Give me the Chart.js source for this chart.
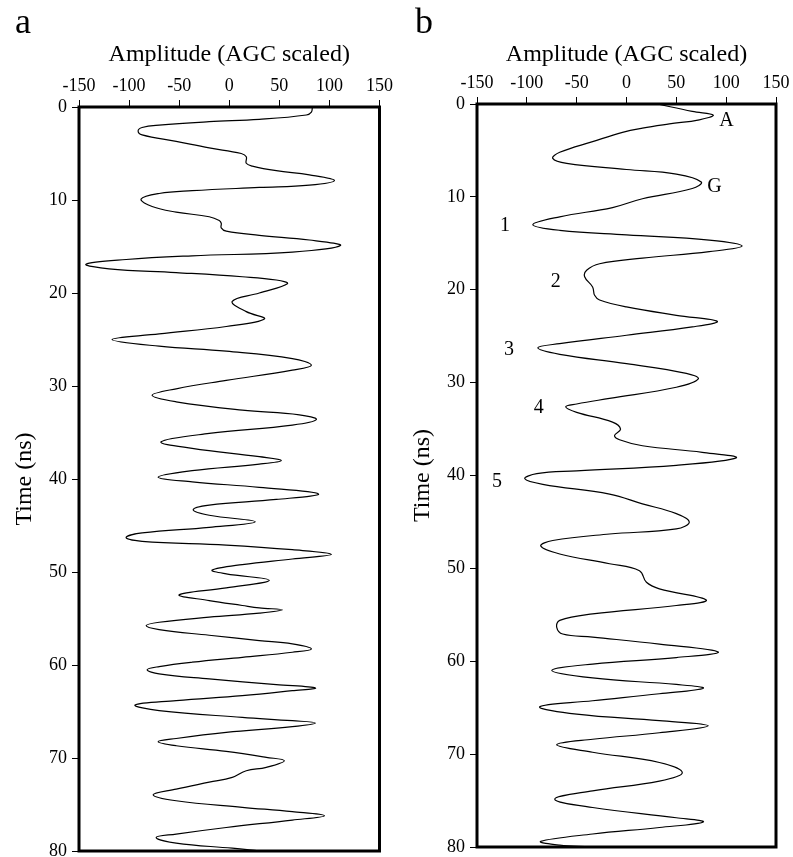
<!DOCTYPE html>
<html>
<head>
<meta charset="utf-8">
<script src="https://cdn.jsdelivr.net/npm/chart.js@4.4.1/dist/chart.umd.min.js"></script>
<style>
html, body { margin: 0; padding: 0; background: #fff; overflow: hidden; }
#wrap { position: relative; width: 793px; height: 857px; }
.panel { position: absolute; top: 0; }
#pa { left: 0; }
#pb { left: 396px; }
</style>
</head>
<body>
<div id="wrap">
  <div class="panel" id="pa"><canvas id="ca" width="396" height="880"></canvas></div>
  <div class="panel" id="pb"><canvas id="cb" width="397" height="880"></canvas></div>
</div>
<script>
// axis ticks
const ampTicks = [-150, -100, -50, 0, 50, 100, 150];
const timeTicks = [0, 10, 20, 30, 40, 50, 60, 70, 80];

// trace a: time (ns) and amplitude
const timeA = [0, 0.55, 0.86, 1.33, 1.58, 1.94, 2.2, 2.58, 3.0, 3.7, 4.4, 5.0, 5.35, 6.05, 6.35, 6.85, 7.3, 7.9,
  8.4, 8.65, 9.0, 9.3, 9.9, 10.7, 11.3, 11.8, 12.2, 12.5, 13.0, 13.35, 13.8, 14.3, 14.9,
  15.6, 16.0, 16.4, 16.9, 17.4, 17.8, 18.25, 18.6, 19.0, 20.0, 20.9, 22.0, 22.8, 23.6, 24.4, 25.0,
  25.72, 26.26, 27.05, 27.77, 28.3, 29.4, 30.3, 31.0, 31.7, 32.6, 33.1, 33.6, 34.2, 35.1, 36.0,
  36.7, 37.6, 38.0, 38.4, 39.1, 39.8, 40.3, 40.9, 41.6, 42.2, 42.8, 43.3, 43.9, 44.6, 45.2, 45.8, 46.3,
  46.7, 47.1, 47.6, 48.1, 48.6, 49.2, 49.8, 50.2, 50.9, 51.7, 52.45, 53.07, 53.6, 53.86, 54.07,
  54.43, 54.86, 55.4, 55.76, 56.2, 56.8, 57.37, 57.73, 58.27, 58.63, 59.17, 59.7, 60.17, 60.5,
  60.96, 61.5, 62.1, 62.47, 62.76, 63.3, 63.83, 64.3, 64.9, 65.63, 65.99, 66.23, 66.63, 67.24, 67.9, 68.25,
  68.68, 69.29, 69.93, 70.29, 71.0, 71.37, 72.09, 72.6, 73.34, 73.95, 74.6, 75.3, 75.77, 76.2,
  76.67, 77.47, 78.18, 78.54, 79.15, 79.7, 80];
const ampA = [83, 82, 77, 30, -20, -70, -87, -91, -87, -53, -20, 12, 17, 17, 23, 47, 80, 105,
  80, 30, -37, -70, -88, -77, -53, -20, -10, -8, -8, -3, 30, 80, 111,
  63, -37, -103, -143, -120, -53, 13, 47, 58, 30, 3, 17, 35, -3, -70, -117,
  -70, -3, 63, 82, 63, -3, -53, -77, -53, 13, 70, 87, 63, -20, -68,
  -37, 30, 52, 30, -37, -71, -37, 30, 89, 47, -20, -36, -20, 26, -20, -87, -103,
  -87, -3, 63, 102, 63, 13, -17, -3, 40, -3, -50, -20, 13, 30, 53,
  30, -20, -70, -83, -70, -20, 30, 63, 82, 63, 13, -37, -70, -82,
  -70, -20, 47, 86, 63, 13, -53, -94, -70, 13, 63, 86, 63, -3, -53, -71,
  -53, -3, 37, 55, 37, 17, 3, -20, -53, -76, -53, 13, 63, 95,
  63, -3, -53, -73, -53, 3, 30];

// trace b: time (ns) and amplitude
const timeB = [0, 0.8, 1.2, 1.7, 2.15, 2.6, 3.05, 4.05, 5.2, 5.85, 6.4, 7.05, 7.55, 8.4,
  9.1, 10.2, 11.15, 12.15, 13.0, 13.6, 14.1, 14.65, 15.3, 15.9, 16.6, 17.2, 17.9, 18.6,
  19.7, 20.6, 21.1, 21.85, 22.75, 23.4, 24.0, 24.9, 25.8, 26.25, 26.95, 27.95, 29.0, 29.6,
  30.5, 31.7, 32.3, 32.6, 33.2, 34.25, 35.0, 35.7, 36.15, 36.8, 37.5, 38.1, 38.9, 39.5, 39.8, 40.35,
  40.95, 42.0, 43.05, 44.1, 45.0, 45.75, 46.3, 47.0, 47.6, 48.45, 49.5, 50.25, 51.5, 52.2, 53.4,
  54.0, 54.9, 55.6, 56.35, 57.07, 57.4, 58.15, 59.0, 59.6, 60.3, 61.0, 61.8, 62.5, 62.9,
  63.5, 64.25, 64.9, 65.7, 66.4, 66.95, 67.7, 68.4, 69.0, 69.8, 70.9, 72.0, 72.9, 73.95, 74.85,
  75.75, 76.85, 77.3, 77.9, 78.6, 79.4, 79.8, 80];
const ampB = [31, 66, 87, 73, 43, 16, -4, -34, -67, -74, -60, 0, 50, 75,
  66, 16, -14, -67, -94, -67, 0, 83, 116, 83, 16, -27, -40, -42,
  -34, -32, -27, 0, 50, 91, 66, 0, -67, -89, -67, 0, 60, 72,
  50, -17, -50, -61, -50, -14, -6, -12, -7, 16, 76, 110, 50, -50, -90, -102,
  -84, -17, 16, 50, 63, 50, -17, -74, -86, -67, -17, 13, 20, 33, 80,
  50, -34, -67, -70, -64, -34, 33, 92, 50, -34, -75, -34, 50, 77,
  33, -34, -87, -50, 33, 82, 33, -34, -70, -34, 33, 56, 33, -34, -72,
  -34, 50, 77, 33, -34, -86, -67, -37];

// event labels on trace b
const noteText = ['A', 'G', '1', '2', '3', '4', '5'];
const noteAmp = [93, 81, -127, -76, -123, -93, -135];
const noteTime = [2.37, 9.49, 13.7, 19.73, 27.06, 33.3, 41.2];

const serif = "'Liberation Serif', 'Times New Roman', serif";

// frame round the plot area, panel letter and labels
const framePlugin = {
  id: 'frame',
  afterDraw(chart, args, opts) {
    const ctx = chart.ctx;
    const a = chart.chartArea;
    ctx.save();
    ctx.strokeStyle = '#000';
    ctx.lineWidth = 3;
    ctx.strokeRect(a.left, a.top, a.right - a.left, a.bottom - a.top);
    ctx.fillStyle = '#000';
    ctx.textBaseline = 'alphabetic';
    ctx.textAlign = 'left';
    ctx.font = '36px ' + serif;
    ctx.fillText(opts.letter, opts.letterX, opts.letterY);
    if (opts.notes) {
      ctx.font = '20px ' + serif;
      opts.notes.text.forEach((t, i) => {
        const x = chart.scales.x.getPixelForValue(opts.notes.amp[i]);
        const y = chart.scales.y.getPixelForValue(opts.notes.time[i]);
        ctx.fillText(t, x, y);
      });
    }
    ctx.restore();
  }
};

function makePanel(canvas, times, amps, p) {
  const points = times.map((t, i) => ({x: amps[i], y: t}));
  return new Chart(canvas, {
    type: 'scatter',
    data: {
      datasets: [{
        data: points,
        showLine: true,
        borderColor: '#000',
        borderWidth: 1.2,
        pointRadius: 0,
        tension: 0.4,
        fill: false
      }]
    },
    options: {
      responsive: false,
      animation: false,
      events: [],
      layout: { padding: { top: 0, left: 0, right: p.padRight, bottom: p.padBottom } },
      scales: {
        x: {
          type: 'linear',
          position: 'top',
          min: ampTicks[0],
          max: ampTicks[ampTicks.length - 1],
          afterBuildTicks: s => { s.ticks = ampTicks.map(v => ({value: v})); },
          afterFit: s => { s.height = p.top; },
          ticks: { color: '#000', font: { family: serif, size: 18 }, padding: 3, maxRotation: 0 },
          grid: { drawOnChartArea: false, drawTicks: true, tickLength: 7, color: '#000', lineWidth: 1 },
          border: { display: false },
          title: { display: true, text: 'Amplitude (AGC scaled)', color: '#000',
            font: { family: serif, size: 24 }, padding: { top: 40, bottom: 0 } }
        },
        y: {
          type: 'linear',
          reverse: true,
          min: 0,
          max: 80,
          afterBuildTicks: s => { s.ticks = timeTicks.map(v => ({value: v})); },
          afterFit: s => { s.width = p.left; },
          ticks: { color: '#000', font: { family: serif, size: 18 }, padding: 5 },
          grid: { drawOnChartArea: false, drawTicks: true, tickLength: 7, color: '#000', lineWidth: 1 },
          border: { display: false },
          title: { display: true, text: 'Time (ns)', color: '#000',
            font: { family: serif, size: 24 }, padding: { top: p.yTitlePad, bottom: 0 } }
        }
      },
      plugins: {
        legend: { display: false },
        tooltip: { enabled: false },
        frame: { letter: p.letter, letterX: p.letterX, letterY: 33, notes: p.notes }
      }
    },
    plugins: [framePlugin]
  });
}

makePanel(document.getElementById('ca'), timeA, ampA,
  { top: 107, left: 79, padRight: 15, padBottom: 29, yTitlePad: 10, letter: 'a', letterX: 15 });
makePanel(document.getElementById('cb'), timeB, ampB,
  { top: 104, left: 81, padRight: 17, padBottom: 33, yTitlePad: 12, letter: 'b', letterX: 19,
    notes: { text: noteText, amp: noteAmp, time: noteTime } });
</script>
</body>
</html>
